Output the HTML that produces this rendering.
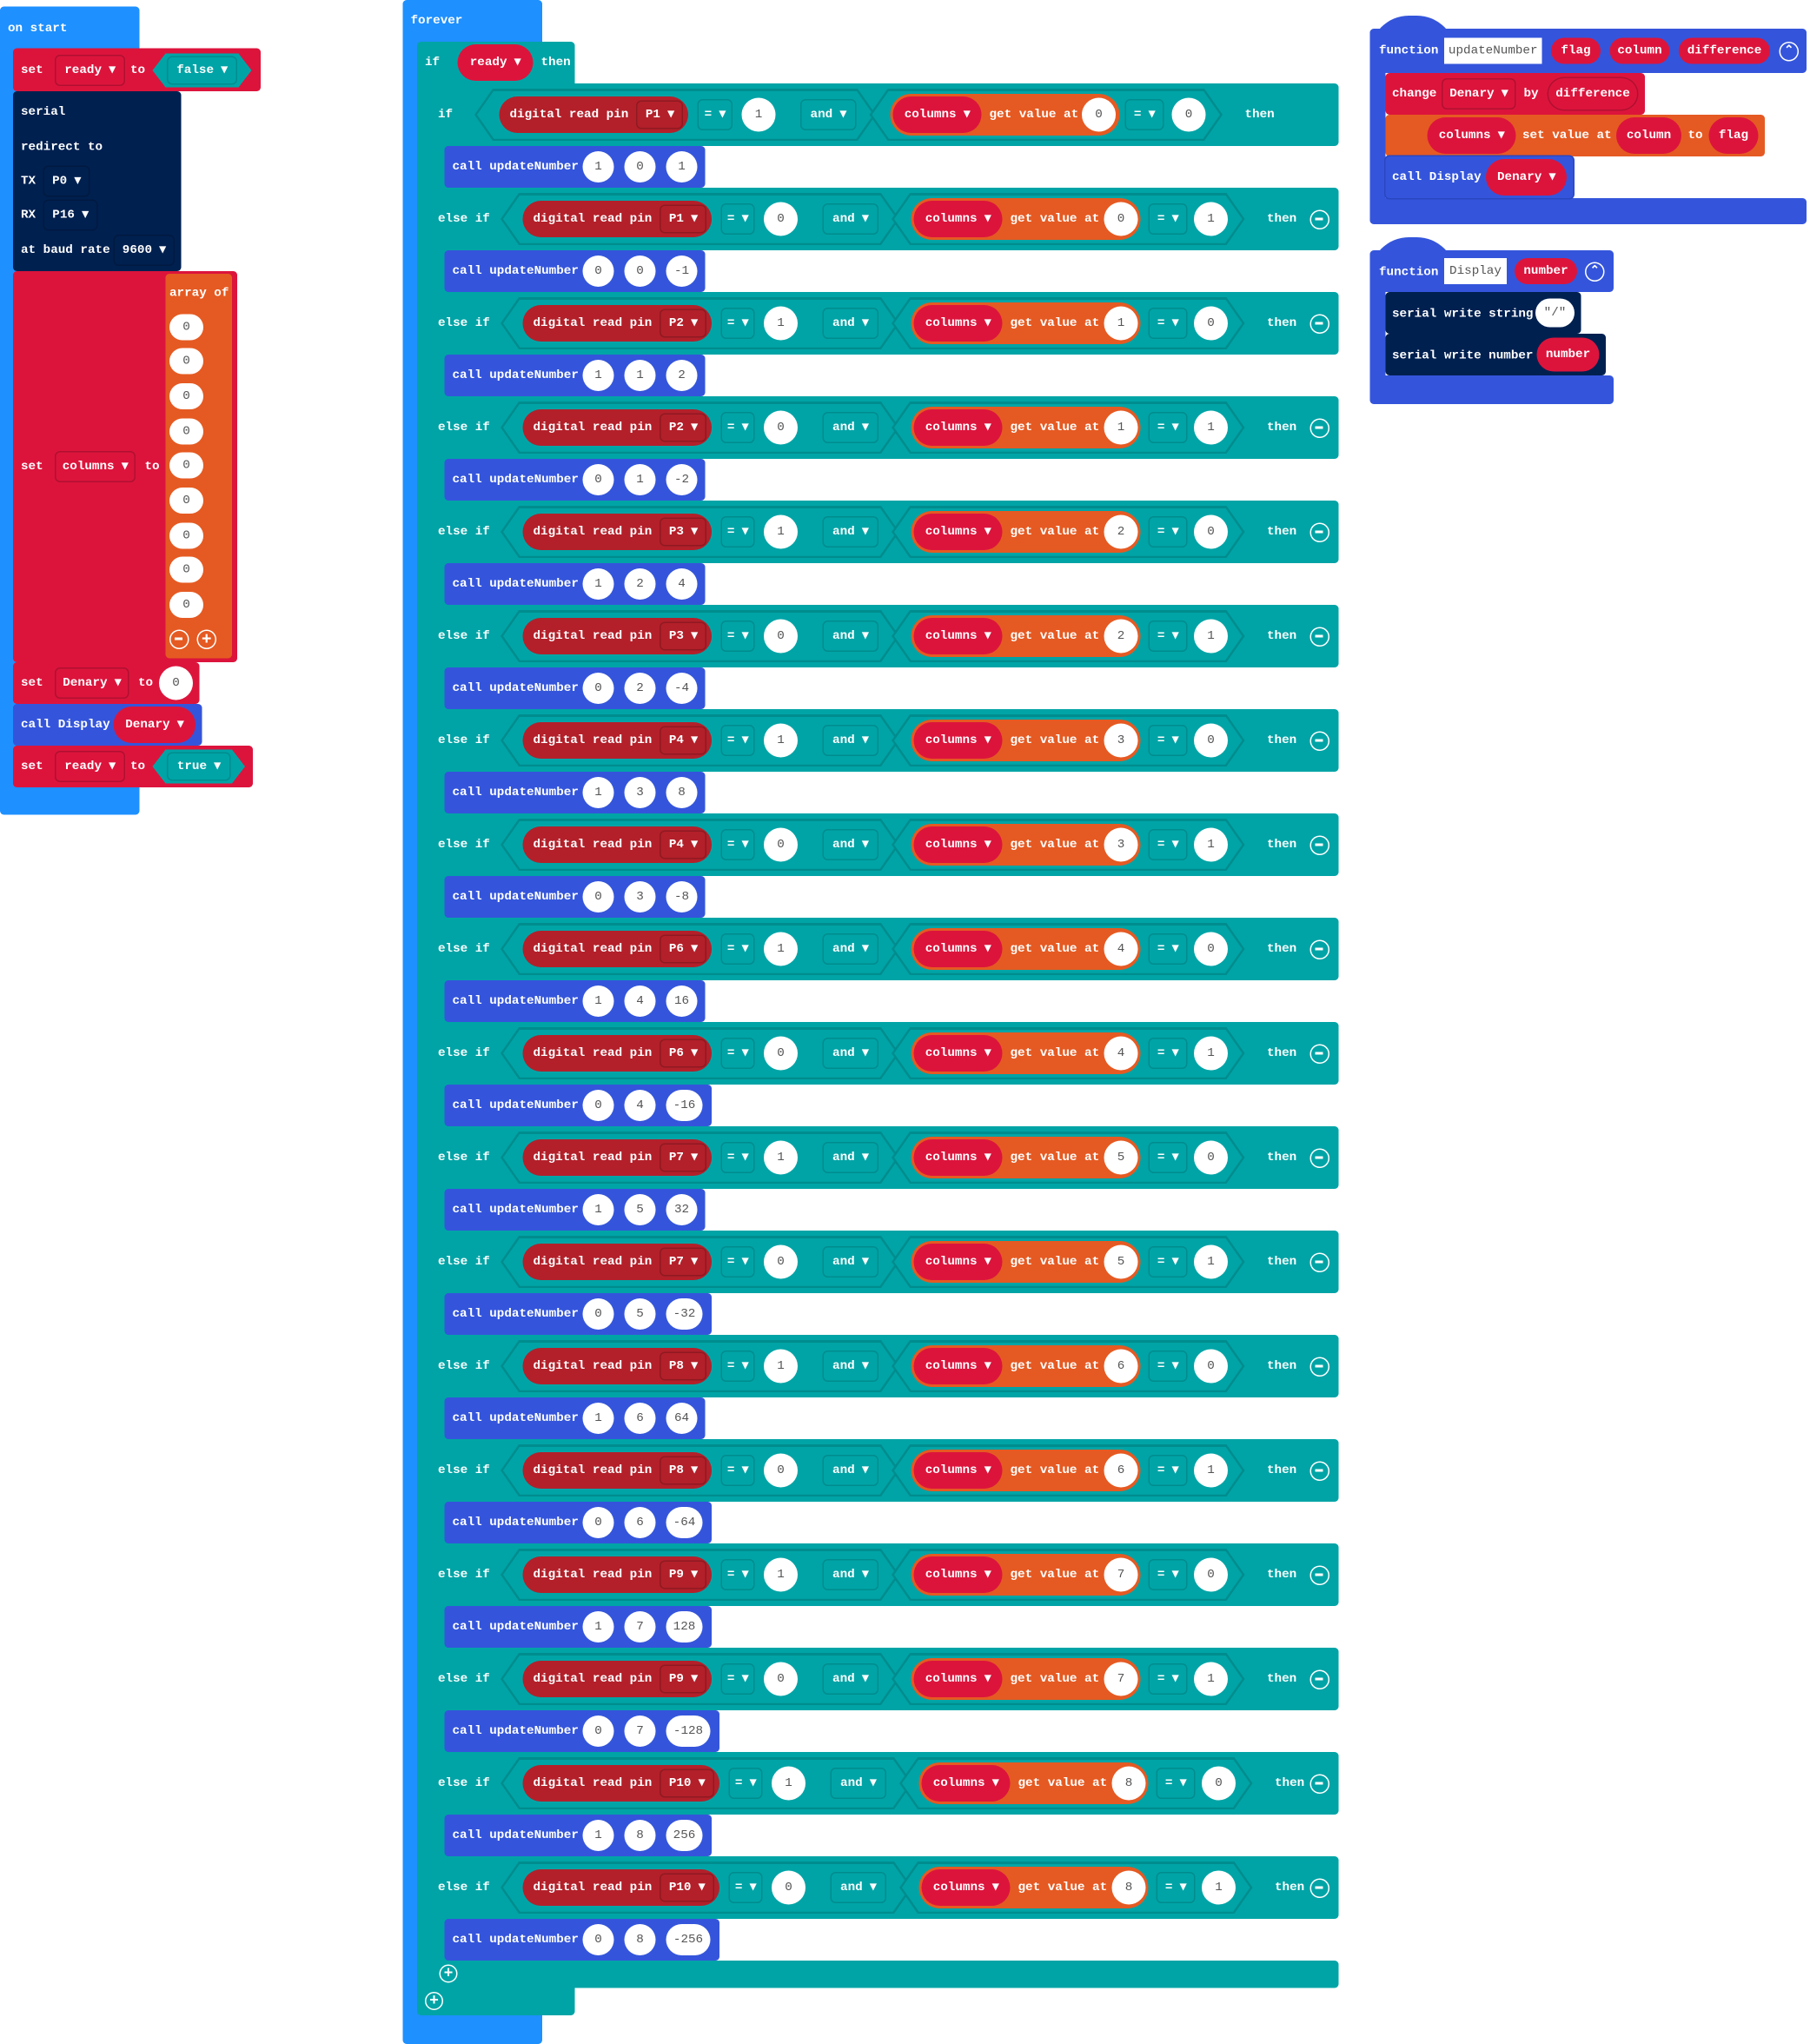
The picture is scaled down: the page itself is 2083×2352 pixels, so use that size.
<!DOCTYPE html>
<html><head><meta charset="utf-8"><style>
*{margin:0;padding:0;box-sizing:border-box}
body{width:2083px;height:2352px;background:#fff;overflow:hidden}
#c{position:absolute;left:0;top:0;width:1389px;height:1568px;transform:scale(1.5);transform-origin:0 0}
.a{position:absolute}
.x{position:absolute;display:flex;align-items:center;justify-content:center;color:#fff;font:bold 9.5px/1 "Liberation Mono",monospace;white-space:nowrap}
.l{position:absolute;color:#fff;font:bold 9.5px/1 "Liberation Mono",monospace;white-space:nowrap}
.row{position:absolute;left:332px;width:695px;height:48px;background:#00a4a6;border-radius:0 3px 3px 0}
.row .l{top:19px}
.hex{position:absolute;top:4px;height:40px;background:#008c8e;clip-path:polygon(14px 0,calc(100% - 14px) 0,100% 50%,calc(100% - 14px) 100%,14px 100%,0 50%)}
.hex:after{content:"";position:absolute;left:2px;right:2px;top:1.5px;bottom:1.5px;background:#00a4a6;clip-path:polygon(13px 0,calc(100% - 13px) 0,100% 50%,calc(100% - 13px) 100%,13px 100%,0 50%)}
.dr{top:10px;height:28px;border-radius:14px;background:#b3202a;justify-content:flex-start;padding-left:8px;gap:6px}
.dd{display:inline-flex;align-items:center;height:22px;padding:0 6px;border:1px solid rgba(0,0,0,.2);border-radius:4px}
.eq{top:12px;height:24px;border:1px solid #008c8e;border-radius:4px}
.ci{top:11px;width:26px;height:26px;border-radius:13px;background:#fff;color:#555;font-weight:normal}
.or{top:8px;height:32px;border-radius:16px;background:#e55a22;justify-content:flex-start;gap:6px;padding-left:2px}
.rp{height:28px;border-radius:14px;background:#dc143c;padding:0 8px}
.mi{top:17px;width:15px;height:15px;border:1.5px solid #fff;border-radius:50%}
.mi:after{content:"";position:absolute;left:3px;top:5px;width:6px;height:2px;background:#fff}
.call{position:absolute;left:341px;height:32px;background:#3455db;border-radius:3px}
.call .l{left:6px;top:11px}
.call .ci{top:4px;width:24px;height:24px}
</style></head><body><div id="c">

<!-- on start -->
<div class="a" style="left:0;top:5px;width:107px;height:620px;background:#1e90ff;border-radius:3px"></div>
<div class="l" style="left:6px;top:17px">on start</div>
<div class="a" style="left:10px;top:37px;width:190px;height:33px;background:#dc143c;border-radius:3px"></div>
<div class="l" style="left:16px;top:49px">set</div>
<div class="x dd" style="left:42px;top:42px;width:54px;height:24px">ready ▾</div>
<div class="l" style="left:100px;top:49px">to</div>
<div class="a" style="left:117px;top:41px;width:76px;height:26px;background:#00a4a6;clip-path:polygon(10px 0,66px 0,76px 50%,66px 100%,10px 100%,0 50%)"></div>
<div class="x dd" style="left:128px;top:43px;width:54px;height:22px;border-color:#008c8e">false ▾</div>
<div class="a" style="left:10px;top:70px;width:129px;height:138px;background:#002050;border-radius:3px"></div>
<div class="l" style="left:16px;top:81px">serial</div>
<div class="l" style="left:16px;top:108px">redirect to</div>
<div class="l" style="left:16px;top:134px">TX</div><div class="x dd" style="left:33px;top:127px;width:36px;height:24px">P0 ▾</div>
<div class="l" style="left:16px;top:160px">RX</div><div class="x dd" style="left:33px;top:153px;width:42px;height:24px">P16 ▾</div>
<div class="l" style="left:16px;top:187px">at baud rate</div><div class="x dd" style="left:87px;top:180px;width:47px;height:24px">9600 ▾</div>
<div class="a" style="left:10px;top:208px;width:172px;height:300px;background:#dc143c;border-radius:3px"></div>
<div class="l" style="left:16px;top:353px">set</div>
<div class="x dd" style="left:42px;top:346px;width:62px;height:24px">columns ▾</div>
<div class="l" style="left:111px;top:353px">to</div>
<div class="a" style="left:127px;top:210px;width:51px;height:295px;background:#e55a22;border-radius:3px"></div>
<div class="l" style="left:130px;top:220px">array of</div>
<div class="x ci" style="left:130px;top:241px;height:20px">0</div>
<div class="x ci" style="left:130px;top:267px;height:20px">0</div>
<div class="x ci" style="left:130px;top:294px;height:20px">0</div>
<div class="x ci" style="left:130px;top:321px;height:20px">0</div>
<div class="x ci" style="left:130px;top:347px;height:20px">0</div>
<div class="x ci" style="left:130px;top:374px;height:20px">0</div>
<div class="x ci" style="left:130px;top:401px;height:20px">0</div>
<div class="x ci" style="left:130px;top:427px;height:20px">0</div>
<div class="x ci" style="left:130px;top:454px;height:20px">0</div>
<div class="a mi" style="left:130px;top:483px"></div>
<div class="x" style="left:151px;top:483px;width:15px;height:15px;border:1.5px solid #fff;border-radius:50%;font-size:13px">+</div>
<div class="a" style="left:10px;top:508px;width:143px;height:32px;background:#dc143c;border-radius:3px"></div>
<div class="l" style="left:16px;top:519px">set</div>
<div class="x dd" style="left:42px;top:512px;width:57px;height:24px">Denary ▾</div>
<div class="l" style="left:106px;top:519px">to</div>
<div class="x ci" style="left:122px;top:511px;width:26px">0</div>
<div class="a" style="left:10px;top:540px;width:145px;height:32px;background:#3455db;border-radius:3px"></div>
<div class="l" style="left:16px;top:551px">call Display</div>
<div class="x rp" style="left:87px;top:542px;width:63px">Denary ▾</div>
<div class="a" style="left:10px;top:572px;width:184px;height:32px;background:#dc143c;border-radius:3px"></div>
<div class="l" style="left:16px;top:583px">set</div>
<div class="x dd" style="left:42px;top:576px;width:54px;height:24px">ready ▾</div>
<div class="l" style="left:100px;top:583px">to</div>
<div class="a" style="left:117px;top:575px;width:71px;height:26px;background:#00a4a6;clip-path:polygon(10px 0,61px 0,71px 50%,61px 100%,10px 100%,0 50%)"></div>
<div class="x dd" style="left:128px;top:577px;width:49px;height:22px;border-color:#008c8e">true ▾</div>

<!-- forever -->
<div class="a" style="left:309px;top:0;width:107px;height:1568px;background:#1e90ff;border-radius:3px"></div>
<div class="l" style="left:315px;top:11px">forever</div>
<div class="a" style="left:320px;top:32px;width:121px;height:1514px;background:#00a4a6;border-radius:3px"></div>
<div class="l" style="left:326px;top:43px">if</div>
<div class="x rp" style="left:351px;top:34px;width:58px">ready ▾</div>
<div class="l" style="left:415px;top:43px">then</div>
<div class="a" style="left:332px;top:64px;width:10px;height:1461px;background:#00a4a6"></div>
<div class="a" style="left:441px;top:64px;width:1px;height:1px"></div>
<div class="a" style="left:332px;top:1504px;width:695px;height:21px;background:#00a4a6;border-radius:0 3px 3px 0"></div>
<div class="x" style="left:337px;top:1507px;width:14px;height:14px;border:1.5px solid #fff;border-radius:50%;font-size:12px">+</div>
<div class="x" style="left:326px;top:1528px;width:14px;height:14px;border:1.5px solid #fff;border-radius:50%;font-size:12px">+</div>

<!-- row 0 -->
<div class="row" style="top:64px"><span class="l" style="left:4px">if</span>
<div class="hex" style="left:32px;width:308px"></div>
<div class="x dr" style="left:51px;width:145px">digital read pin<span class="dd">P1 ▾</span></div>
<div class="x eq" style="left:203px;width:27px">= ▾</div><div class="x ci" style="left:237px">1</div>
<div class="x eq" style="left:282px;width:43px">and ▾</div>
<div class="hex" style="left:335px;width:271px"></div>
<div class="x or" style="left:351px;width:176px"><span class="x rp" style="position:static;width:68px">columns ▾</span>get value at</div>
<div class="x ci" style="left:498px">0</div>
<div class="x eq" style="left:531px;width:30px">= ▾</div><div class="x ci" style="left:567px">0</div>
<span class="l" style="left:623px">then</span></div>
<div class="call" style="top:112px;width:200px"><span class="l">call updateNumber</span><div class="x ci" style="left:106px">1</div><div class="x ci" style="left:138px">0</div><div class="x ci" style="left:170px">1</div></div>

<!-- else-if rows -->
<div class="row" style="top:144px"><span class="l" style="left:4px">else if</span><div class="hex" style="left:52px;width:306px"></div><div class="x dr" style="left:69px;width:145px">digital read pin<span class="dd">P1 ▾</span></div><div class="x eq" style="left:221px;width:26px">= ▾</div><div class="x ci" style="left:254px">0</div><div class="x eq" style="left:299px;width:43px">and ▾</div><div class="hex" style="left:352px;width:271px"></div><div class="x or" style="left:367px;width:176px"><span class="x rp" style="position:static;width:68px">columns ▾</span>get value at</div><div class="x ci" style="left:515px">0</div><div class="x eq" style="left:549px;width:30px">= ▾</div><div class="x ci" style="left:584px">1</div><span class="l" style="left:640px">then</span><div class="a mi" style="left:673px"></div></div>
<div class="call" style="top:192px;width:200px"><span class="l">call updateNumber</span><div class="x ci" style="left:106px">0</div><div class="x ci" style="left:138px">0</div><div class="x ci" style="left:170px">-1</div></div>

<div class="row" style="top:224px"><span class="l" style="left:4px">else if</span><div class="hex" style="left:52px;width:306px"></div><div class="x dr" style="left:69px;width:145px">digital read pin<span class="dd">P2 ▾</span></div><div class="x eq" style="left:221px;width:26px">= ▾</div><div class="x ci" style="left:254px">1</div><div class="x eq" style="left:299px;width:43px">and ▾</div><div class="hex" style="left:352px;width:271px"></div><div class="x or" style="left:367px;width:176px"><span class="x rp" style="position:static;width:68px">columns ▾</span>get value at</div><div class="x ci" style="left:515px">1</div><div class="x eq" style="left:549px;width:30px">= ▾</div><div class="x ci" style="left:584px">0</div><span class="l" style="left:640px">then</span><div class="a mi" style="left:673px"></div></div>
<div class="call" style="top:272px;width:200px"><span class="l">call updateNumber</span><div class="x ci" style="left:106px">1</div><div class="x ci" style="left:138px">1</div><div class="x ci" style="left:170px">2</div></div>

<div class="row" style="top:304px"><span class="l" style="left:4px">else if</span><div class="hex" style="left:52px;width:306px"></div><div class="x dr" style="left:69px;width:145px">digital read pin<span class="dd">P2 ▾</span></div><div class="x eq" style="left:221px;width:26px">= ▾</div><div class="x ci" style="left:254px">0</div><div class="x eq" style="left:299px;width:43px">and ▾</div><div class="hex" style="left:352px;width:271px"></div><div class="x or" style="left:367px;width:176px"><span class="x rp" style="position:static;width:68px">columns ▾</span>get value at</div><div class="x ci" style="left:515px">1</div><div class="x eq" style="left:549px;width:30px">= ▾</div><div class="x ci" style="left:584px">1</div><span class="l" style="left:640px">then</span><div class="a mi" style="left:673px"></div></div>
<div class="call" style="top:352px;width:200px"><span class="l">call updateNumber</span><div class="x ci" style="left:106px">0</div><div class="x ci" style="left:138px">1</div><div class="x ci" style="left:170px">-2</div></div>

<div class="row" style="top:384px"><span class="l" style="left:4px">else if</span><div class="hex" style="left:52px;width:306px"></div><div class="x dr" style="left:69px;width:145px">digital read pin<span class="dd">P3 ▾</span></div><div class="x eq" style="left:221px;width:26px">= ▾</div><div class="x ci" style="left:254px">1</div><div class="x eq" style="left:299px;width:43px">and ▾</div><div class="hex" style="left:352px;width:271px"></div><div class="x or" style="left:367px;width:176px"><span class="x rp" style="position:static;width:68px">columns ▾</span>get value at</div><div class="x ci" style="left:515px">2</div><div class="x eq" style="left:549px;width:30px">= ▾</div><div class="x ci" style="left:584px">0</div><span class="l" style="left:640px">then</span><div class="a mi" style="left:673px"></div></div>
<div class="call" style="top:432px;width:200px"><span class="l">call updateNumber</span><div class="x ci" style="left:106px">1</div><div class="x ci" style="left:138px">2</div><div class="x ci" style="left:170px">4</div></div>

<div class="row" style="top:464px"><span class="l" style="left:4px">else if</span><div class="hex" style="left:52px;width:306px"></div><div class="x dr" style="left:69px;width:145px">digital read pin<span class="dd">P3 ▾</span></div><div class="x eq" style="left:221px;width:26px">= ▾</div><div class="x ci" style="left:254px">0</div><div class="x eq" style="left:299px;width:43px">and ▾</div><div class="hex" style="left:352px;width:271px"></div><div class="x or" style="left:367px;width:176px"><span class="x rp" style="position:static;width:68px">columns ▾</span>get value at</div><div class="x ci" style="left:515px">2</div><div class="x eq" style="left:549px;width:30px">= ▾</div><div class="x ci" style="left:584px">1</div><span class="l" style="left:640px">then</span><div class="a mi" style="left:673px"></div></div>
<div class="call" style="top:512px;width:200px"><span class="l">call updateNumber</span><div class="x ci" style="left:106px">0</div><div class="x ci" style="left:138px">2</div><div class="x ci" style="left:170px">-4</div></div>

<div class="row" style="top:544px"><span class="l" style="left:4px">else if</span><div class="hex" style="left:52px;width:306px"></div><div class="x dr" style="left:69px;width:145px">digital read pin<span class="dd">P4 ▾</span></div><div class="x eq" style="left:221px;width:26px">= ▾</div><div class="x ci" style="left:254px">1</div><div class="x eq" style="left:299px;width:43px">and ▾</div><div class="hex" style="left:352px;width:271px"></div><div class="x or" style="left:367px;width:176px"><span class="x rp" style="position:static;width:68px">columns ▾</span>get value at</div><div class="x ci" style="left:515px">3</div><div class="x eq" style="left:549px;width:30px">= ▾</div><div class="x ci" style="left:584px">0</div><span class="l" style="left:640px">then</span><div class="a mi" style="left:673px"></div></div>
<div class="call" style="top:592px;width:200px"><span class="l">call updateNumber</span><div class="x ci" style="left:106px">1</div><div class="x ci" style="left:138px">3</div><div class="x ci" style="left:170px">8</div></div>

<div class="row" style="top:624px"><span class="l" style="left:4px">else if</span><div class="hex" style="left:52px;width:306px"></div><div class="x dr" style="left:69px;width:145px">digital read pin<span class="dd">P4 ▾</span></div><div class="x eq" style="left:221px;width:26px">= ▾</div><div class="x ci" style="left:254px">0</div><div class="x eq" style="left:299px;width:43px">and ▾</div><div class="hex" style="left:352px;width:271px"></div><div class="x or" style="left:367px;width:176px"><span class="x rp" style="position:static;width:68px">columns ▾</span>get value at</div><div class="x ci" style="left:515px">3</div><div class="x eq" style="left:549px;width:30px">= ▾</div><div class="x ci" style="left:584px">1</div><span class="l" style="left:640px">then</span><div class="a mi" style="left:673px"></div></div>
<div class="call" style="top:672px;width:200px"><span class="l">call updateNumber</span><div class="x ci" style="left:106px">0</div><div class="x ci" style="left:138px">3</div><div class="x ci" style="left:170px">-8</div></div>

<div class="row" style="top:704px"><span class="l" style="left:4px">else if</span><div class="hex" style="left:52px;width:306px"></div><div class="x dr" style="left:69px;width:145px">digital read pin<span class="dd">P6 ▾</span></div><div class="x eq" style="left:221px;width:26px">= ▾</div><div class="x ci" style="left:254px">1</div><div class="x eq" style="left:299px;width:43px">and ▾</div><div class="hex" style="left:352px;width:271px"></div><div class="x or" style="left:367px;width:176px"><span class="x rp" style="position:static;width:68px">columns ▾</span>get value at</div><div class="x ci" style="left:515px">4</div><div class="x eq" style="left:549px;width:30px">= ▾</div><div class="x ci" style="left:584px">0</div><span class="l" style="left:640px">then</span><div class="a mi" style="left:673px"></div></div>
<div class="call" style="top:752px;width:200px"><span class="l">call updateNumber</span><div class="x ci" style="left:106px">1</div><div class="x ci" style="left:138px">4</div><div class="x ci" style="left:170px">16</div></div>

<div class="row" style="top:784px"><span class="l" style="left:4px">else if</span><div class="hex" style="left:52px;width:306px"></div><div class="x dr" style="left:69px;width:145px">digital read pin<span class="dd">P6 ▾</span></div><div class="x eq" style="left:221px;width:26px">= ▾</div><div class="x ci" style="left:254px">0</div><div class="x eq" style="left:299px;width:43px">and ▾</div><div class="hex" style="left:352px;width:271px"></div><div class="x or" style="left:367px;width:176px"><span class="x rp" style="position:static;width:68px">columns ▾</span>get value at</div><div class="x ci" style="left:515px">4</div><div class="x eq" style="left:549px;width:30px">= ▾</div><div class="x ci" style="left:584px">1</div><span class="l" style="left:640px">then</span><div class="a mi" style="left:673px"></div></div>
<div class="call" style="top:832px;width:205px"><span class="l">call updateNumber</span><div class="x ci" style="left:106px">0</div><div class="x ci" style="left:138px">4</div><div class="x ci" style="left:170px;width:28px">-16</div></div>

<div class="row" style="top:864px"><span class="l" style="left:4px">else if</span><div class="hex" style="left:52px;width:306px"></div><div class="x dr" style="left:69px;width:145px">digital read pin<span class="dd">P7 ▾</span></div><div class="x eq" style="left:221px;width:26px">= ▾</div><div class="x ci" style="left:254px">1</div><div class="x eq" style="left:299px;width:43px">and ▾</div><div class="hex" style="left:352px;width:271px"></div><div class="x or" style="left:367px;width:176px"><span class="x rp" style="position:static;width:68px">columns ▾</span>get value at</div><div class="x ci" style="left:515px">5</div><div class="x eq" style="left:549px;width:30px">= ▾</div><div class="x ci" style="left:584px">0</div><span class="l" style="left:640px">then</span><div class="a mi" style="left:673px"></div></div>
<div class="call" style="top:912px;width:200px"><span class="l">call updateNumber</span><div class="x ci" style="left:106px">1</div><div class="x ci" style="left:138px">5</div><div class="x ci" style="left:170px">32</div></div>

<div class="row" style="top:944px"><span class="l" style="left:4px">else if</span><div class="hex" style="left:52px;width:306px"></div><div class="x dr" style="left:69px;width:145px">digital read pin<span class="dd">P7 ▾</span></div><div class="x eq" style="left:221px;width:26px">= ▾</div><div class="x ci" style="left:254px">0</div><div class="x eq" style="left:299px;width:43px">and ▾</div><div class="hex" style="left:352px;width:271px"></div><div class="x or" style="left:367px;width:176px"><span class="x rp" style="position:static;width:68px">columns ▾</span>get value at</div><div class="x ci" style="left:515px">5</div><div class="x eq" style="left:549px;width:30px">= ▾</div><div class="x ci" style="left:584px">1</div><span class="l" style="left:640px">then</span><div class="a mi" style="left:673px"></div></div>
<div class="call" style="top:992px;width:205px"><span class="l">call updateNumber</span><div class="x ci" style="left:106px">0</div><div class="x ci" style="left:138px">5</div><div class="x ci" style="left:170px;width:28px">-32</div></div>

<div class="row" style="top:1024px"><span class="l" style="left:4px">else if</span><div class="hex" style="left:52px;width:306px"></div><div class="x dr" style="left:69px;width:145px">digital read pin<span class="dd">P8 ▾</span></div><div class="x eq" style="left:221px;width:26px">= ▾</div><div class="x ci" style="left:254px">1</div><div class="x eq" style="left:299px;width:43px">and ▾</div><div class="hex" style="left:352px;width:271px"></div><div class="x or" style="left:367px;width:176px"><span class="x rp" style="position:static;width:68px">columns ▾</span>get value at</div><div class="x ci" style="left:515px">6</div><div class="x eq" style="left:549px;width:30px">= ▾</div><div class="x ci" style="left:584px">0</div><span class="l" style="left:640px">then</span><div class="a mi" style="left:673px"></div></div>
<div class="call" style="top:1072px;width:200px"><span class="l">call updateNumber</span><div class="x ci" style="left:106px">1</div><div class="x ci" style="left:138px">6</div><div class="x ci" style="left:170px">64</div></div>

<div class="row" style="top:1104px"><span class="l" style="left:4px">else if</span><div class="hex" style="left:52px;width:306px"></div><div class="x dr" style="left:69px;width:145px">digital read pin<span class="dd">P8 ▾</span></div><div class="x eq" style="left:221px;width:26px">= ▾</div><div class="x ci" style="left:254px">0</div><div class="x eq" style="left:299px;width:43px">and ▾</div><div class="hex" style="left:352px;width:271px"></div><div class="x or" style="left:367px;width:176px"><span class="x rp" style="position:static;width:68px">columns ▾</span>get value at</div><div class="x ci" style="left:515px">6</div><div class="x eq" style="left:549px;width:30px">= ▾</div><div class="x ci" style="left:584px">1</div><span class="l" style="left:640px">then</span><div class="a mi" style="left:673px"></div></div>
<div class="call" style="top:1152px;width:205px"><span class="l">call updateNumber</span><div class="x ci" style="left:106px">0</div><div class="x ci" style="left:138px">6</div><div class="x ci" style="left:170px;width:28px">-64</div></div>

<div class="row" style="top:1184px"><span class="l" style="left:4px">else if</span><div class="hex" style="left:52px;width:306px"></div><div class="x dr" style="left:69px;width:145px">digital read pin<span class="dd">P9 ▾</span></div><div class="x eq" style="left:221px;width:26px">= ▾</div><div class="x ci" style="left:254px">1</div><div class="x eq" style="left:299px;width:43px">and ▾</div><div class="hex" style="left:352px;width:271px"></div><div class="x or" style="left:367px;width:176px"><span class="x rp" style="position:static;width:68px">columns ▾</span>get value at</div><div class="x ci" style="left:515px">7</div><div class="x eq" style="left:549px;width:30px">= ▾</div><div class="x ci" style="left:584px">0</div><span class="l" style="left:640px">then</span><div class="a mi" style="left:673px"></div></div>
<div class="call" style="top:1232px;width:205px"><span class="l">call updateNumber</span><div class="x ci" style="left:106px">1</div><div class="x ci" style="left:138px">7</div><div class="x ci" style="left:170px;width:28px">128</div></div>

<div class="row" style="top:1264px"><span class="l" style="left:4px">else if</span><div class="hex" style="left:52px;width:306px"></div><div class="x dr" style="left:69px;width:145px">digital read pin<span class="dd">P9 ▾</span></div><div class="x eq" style="left:221px;width:26px">= ▾</div><div class="x ci" style="left:254px">0</div><div class="x eq" style="left:299px;width:43px">and ▾</div><div class="hex" style="left:352px;width:271px"></div><div class="x or" style="left:367px;width:176px"><span class="x rp" style="position:static;width:68px">columns ▾</span>get value at</div><div class="x ci" style="left:515px">7</div><div class="x eq" style="left:549px;width:30px">= ▾</div><div class="x ci" style="left:584px">1</div><span class="l" style="left:640px">then</span><div class="a mi" style="left:673px"></div></div>
<div class="call" style="top:1312px;width:211px"><span class="l">call updateNumber</span><div class="x ci" style="left:106px">0</div><div class="x ci" style="left:138px">7</div><div class="x ci" style="left:170px;width:34px">-128</div></div>

<div class="row" style="top:1344px"><span class="l" style="left:4px">else if</span><div class="hex" style="left:52px;width:316px"></div><div class="x dr" style="left:69px;width:151px">digital read pin<span class="dd">P10 ▾</span></div><div class="x eq" style="left:227px;width:26px">= ▾</div><div class="x ci" style="left:260px">1</div><div class="x eq" style="left:305px;width:43px">and ▾</div><div class="hex" style="left:358px;width:271px"></div><div class="x or" style="left:373px;width:176px"><span class="x rp" style="position:static;width:68px">columns ▾</span>get value at</div><div class="x ci" style="left:521px">8</div><div class="x eq" style="left:555px;width:30px">= ▾</div><div class="x ci" style="left:590px">0</div><span class="l" style="left:646px">then</span><div class="a mi" style="left:673px"></div></div>
<div class="call" style="top:1392px;width:205px"><span class="l">call updateNumber</span><div class="x ci" style="left:106px">1</div><div class="x ci" style="left:138px">8</div><div class="x ci" style="left:170px;width:28px">256</div></div>

<div class="row" style="top:1424px"><span class="l" style="left:4px">else if</span><div class="hex" style="left:52px;width:316px"></div><div class="x dr" style="left:69px;width:151px">digital read pin<span class="dd">P10 ▾</span></div><div class="x eq" style="left:227px;width:26px">= ▾</div><div class="x ci" style="left:260px">0</div><div class="x eq" style="left:305px;width:43px">and ▾</div><div class="hex" style="left:358px;width:271px"></div><div class="x or" style="left:373px;width:176px"><span class="x rp" style="position:static;width:68px">columns ▾</span>get value at</div><div class="x ci" style="left:521px">8</div><div class="x eq" style="left:555px;width:30px">= ▾</div><div class="x ci" style="left:590px">1</div><span class="l" style="left:646px">then</span><div class="a mi" style="left:673px"></div></div>
<div class="call" style="top:1472px;width:211px"><span class="l">call updateNumber</span><div class="x ci" style="left:106px">0</div><div class="x ci" style="left:138px">8</div><div class="x ci" style="left:170px;width:34px">-256</div></div>

<!-- function updateNumber -->
<div class="a" style="left:1051px;top:12px;width:66px;height:30px;background:#3455db;border-radius:33px 33px 0 0"></div>
<div class="a" style="left:1051px;top:22px;width:335px;height:34px;background:#3455db;border-radius:3px"></div>
<div class="a" style="left:1051px;top:50px;width:12px;height:110px;background:#3455db"></div>
<div class="a" style="left:1051px;top:152px;width:335px;height:20px;background:#3455db;border-radius:3px"></div>
<div class="l" style="left:1058px;top:34px">function</div>
<div class="x" style="left:1108px;top:29px;width:75px;height:20px;background:#fff;color:#555;font-weight:normal">updateNumber</div>
<div class="x rp" style="left:1190px;top:29px;width:38px;height:20px;border-radius:10px;padding:0">flag</div>
<div class="x rp" style="left:1235px;top:29px;width:46px;height:20px;border-radius:10px;padding:0">column</div>
<div class="x rp" style="left:1288px;top:29px;width:70px;height:20px;border-radius:10px;padding:0">difference</div>
<div class="x" style="left:1365px;top:32px;width:15px;height:15px;border:1.5px solid #fff;border-radius:50%;font-size:9px">⌃</div>
<div class="a" style="left:1063px;top:56px;width:199px;height:32px;background:#dc143c;border-radius:3px"></div>
<div class="l" style="left:1068px;top:67px">change</div>
<div class="x dd" style="left:1106px;top:60px;width:57px;height:24px">Denary ▾</div>
<div class="l" style="left:1169px;top:67px">by</div>
<div class="x rp" style="left:1187px;top:59px;width:70px;height:26px;border:1px solid rgba(0,0,0,.2)">difference</div>
<div class="a" style="left:1063px;top:88px;width:291px;height:32px;background:#e55a22;border-radius:3px"></div>
<div class="x rp" style="left:1095px;top:90px;width:68px">columns ▾</div>
<div class="l" style="left:1168px;top:99px">set value at</div>
<div class="x rp" style="left:1240px;top:90px;width:50px">column</div>
<div class="l" style="left:1295px;top:99px">to</div>
<div class="x rp" style="left:1311px;top:90px;width:38px">flag</div>
<div class="a" style="left:1063px;top:120px;width:144px;height:32px;background:#3455db;border-radius:3px;box-shadow:0 0 0 1px #2a46c0"></div>
<div class="l" style="left:1068px;top:131px">call Display</div>
<div class="x rp" style="left:1140px;top:122px;width:62px">Denary ▾</div>

<!-- function Display -->
<div class="a" style="left:1051px;top:182px;width:66px;height:30px;background:#3455db;border-radius:33px 33px 0 0"></div>
<div class="a" style="left:1051px;top:192px;width:187px;height:32px;background:#3455db;border-radius:3px"></div>
<div class="a" style="left:1051px;top:220px;width:12px;height:75px;background:#3455db"></div>
<div class="a" style="left:1051px;top:288px;width:187px;height:22px;background:#3455db;border-radius:3px"></div>
<div class="l" style="left:1058px;top:204px">function</div>
<div class="x" style="left:1108px;top:198px;width:48px;height:20px;background:#fff;color:#555;font-weight:normal">Display</div>
<div class="x rp" style="left:1162px;top:198px;width:48px;height:20px;border-radius:10px;padding:0">number</div>
<div class="x" style="left:1216px;top:201px;width:15px;height:15px;border:1.5px solid #fff;border-radius:50%;font-size:9px">⌃</div>
<div class="a" style="left:1063px;top:224px;width:150px;height:32px;background:#002050;border-radius:3px"></div>
<div class="l" style="left:1068px;top:236px">serial write string</div>
<div class="x" style="left:1178px;top:229px;width:30px;height:22px;background:#fff;color:#555;border-radius:11px;font-weight:normal">"/"</div>
<div class="a" style="left:1063px;top:256px;width:169px;height:32px;background:#002050;border-radius:3px"></div>
<div class="l" style="left:1068px;top:268px">serial write number</div>
<div class="x rp" style="left:1179px;top:259px;width:48px;height:26px">number</div>

</div></body></html>
